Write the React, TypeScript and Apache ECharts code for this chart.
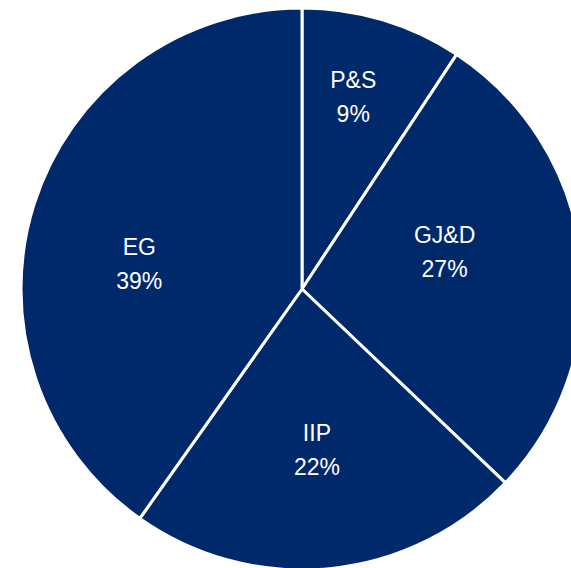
import React, { useEffect, useRef } from "react";
import * as echarts from "echarts";

const categories = ["P&S", "GJ&D", "IIP", "EG"];
const shares = [9, 27, 22, 39];
const labelOffsets: [number, number][] = [
  [10, -55],
  [0, -21],
  [1, 18],
  [-26, 18],
];

export default function App() {
  const ref = useRef<HTMLDivElement>(null);
  useEffect(() => {
    if (!ref.current) return;
    const chart = echarts.init(ref.current, undefined, { renderer: "svg" });
    chart.setOption({
      animation: false,
      backgroundColor: "#ffffff",
      series: [
        {
          type: "pie",
          center: [302, 289],
          radius: 281,
          startAngle: 90,
          clockwise: true,
          avoidLabelOverlap: false,
          emphasis: { disabled: true },
          itemStyle: { color: "#00296B", borderColor: "#ffffff", borderWidth: 3 },
          label: {
            show: true,
            position: "inside",
            formatter: "{b}\n{c}%",
            color: "#ffffff",
            fontSize: 23,
            lineHeight: 34,
            fontFamily: "Liberation Sans, Arial, sans-serif",
          },
          labelLine: { show: false },
          data: categories.map((name, i) => ({
            name,
            value: shares[i],
            label: { offset: labelOffsets[i] },
          })),
        },
      ],
    });
    return () => chart.dispose();
  }, []);
  return (
    <div
      ref={ref}
      style={{ position: "fixed", left: 0, top: 0, width: 571, height: 568 }}
    />
  );
}
